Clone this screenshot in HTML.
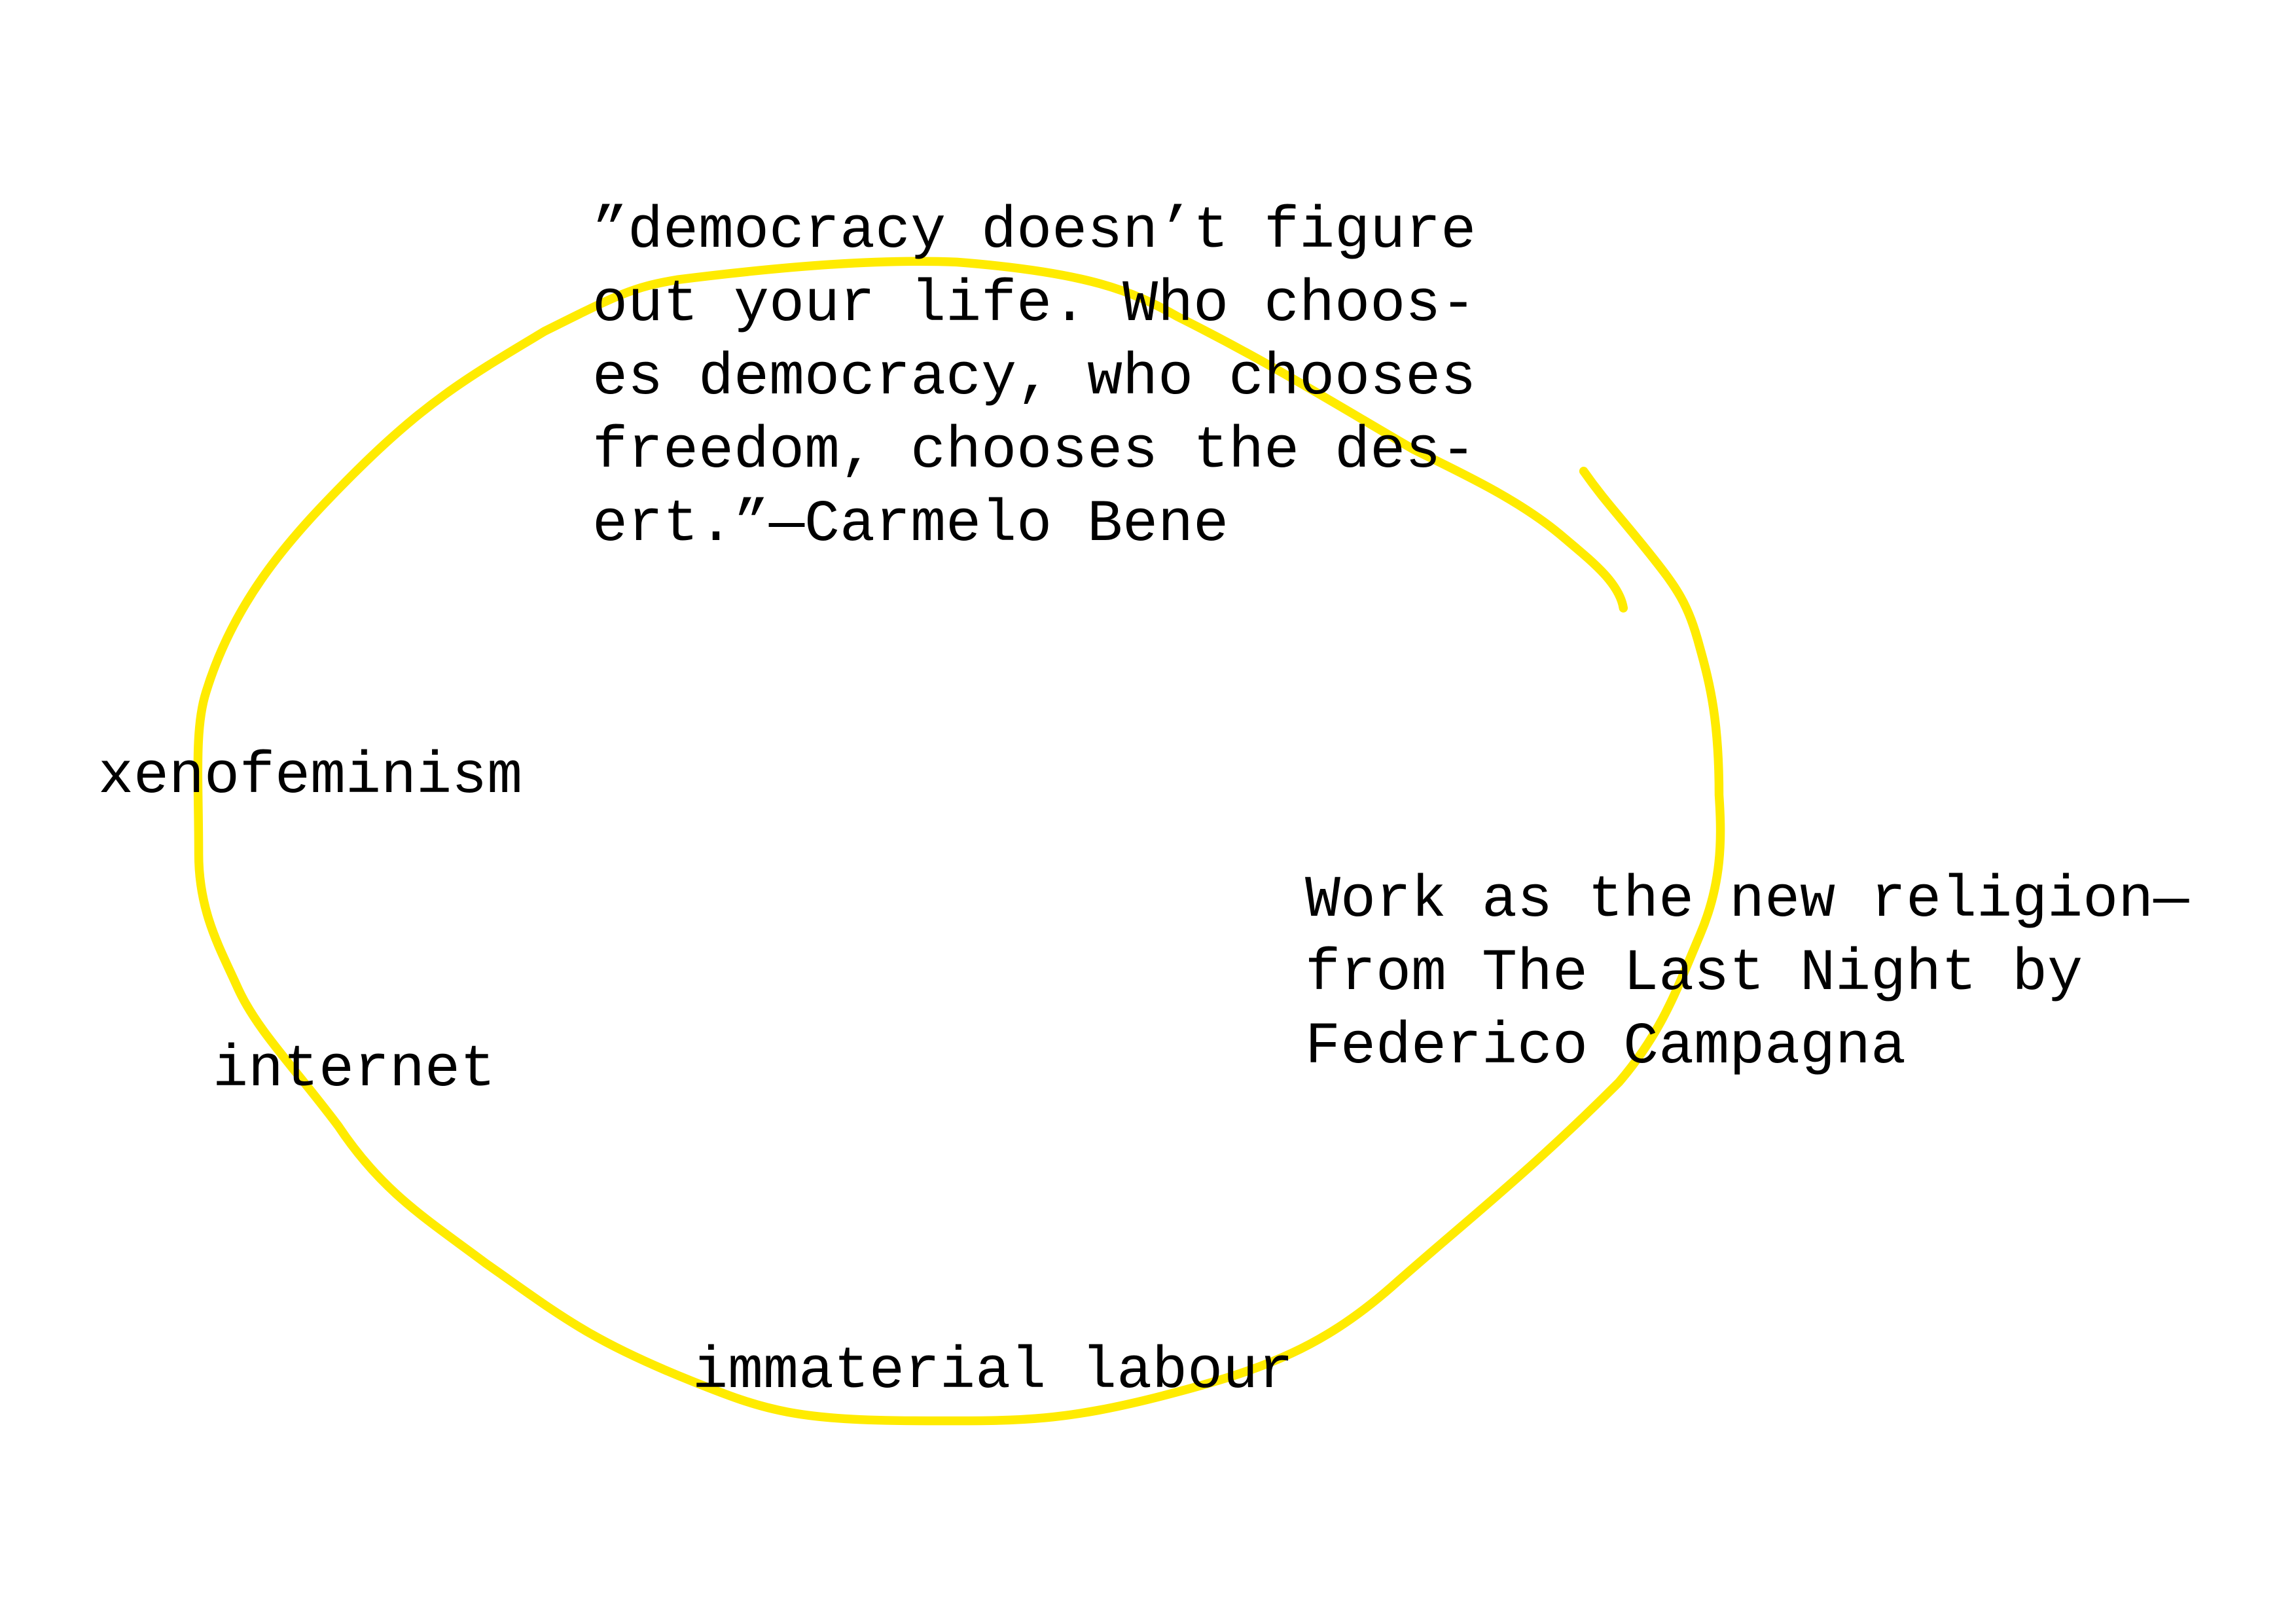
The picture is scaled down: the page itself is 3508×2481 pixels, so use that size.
<!DOCTYPE html>
<html><head><meta charset="utf-8"><style>
html,body{margin:0;padding:0;background:#fff}
#c{position:relative;width:3508px;height:2481px;overflow:hidden;background:#fff}
svg{position:absolute;left:0;top:0}
.t{position:absolute;font-family:"Liberation Mono",monospace;font-size:90px;line-height:112px;color:#000;white-space:pre;letter-spacing:0px}
</style></head><body><div id="c">
<svg width="3508" height="2481" viewBox="0 0 1560 1103" preserveAspectRatio="none">
<path d="M1103,413 C1100,395 1080,380 1060,363 C1030,338 990,320 960,305 C900,270 860,245 800,215 C770,198 740,185 650,178 C600,176 540,180 460,190 C430,195 420,200 370,225 C320,255 290,272 240,322 C200,362 160,405 140,470 C132,495 135,530 135,580 C135,620 150,645 162,672 C175,700 200,725 230,765 C260,810 290,828 330,858 C380,893 400,910 470,938 C520,958 540,965 630,965 C690,965 720,966 790,948 C860,930 900,915 950,870 C1000,826 1040,795 1100,735 C1130,700 1140,670 1155,635 C1170,600 1170,570 1168,540 C1168,490 1162,465 1155,440 C1147,410 1140,400 1120,375 C1100,350 1090,340 1076,320" fill="none" stroke="#ffeb00" stroke-width="6" stroke-linecap="round" stroke-linejoin="round"/>
</svg>
<div class="t" style="left:905px;top:298px">”democracy doesn’t figure
out your life. Who choos-
es democracy, who chooses
freedom, chooses the des-
ert.”—Carmelo Bene</div>
<div class="t" style="left:150px;top:1131px">xenofeminism</div>
<div class="t" style="left:325px;top:1579px">internet</div>
<div class="t" style="left:1058px;top:2040px">immaterial labour</div>
<div class="t" style="left:1994px;top:1320px">Work as the new religion—
from The Last Night by
Federico Campagna</div>
</div></body></html>
